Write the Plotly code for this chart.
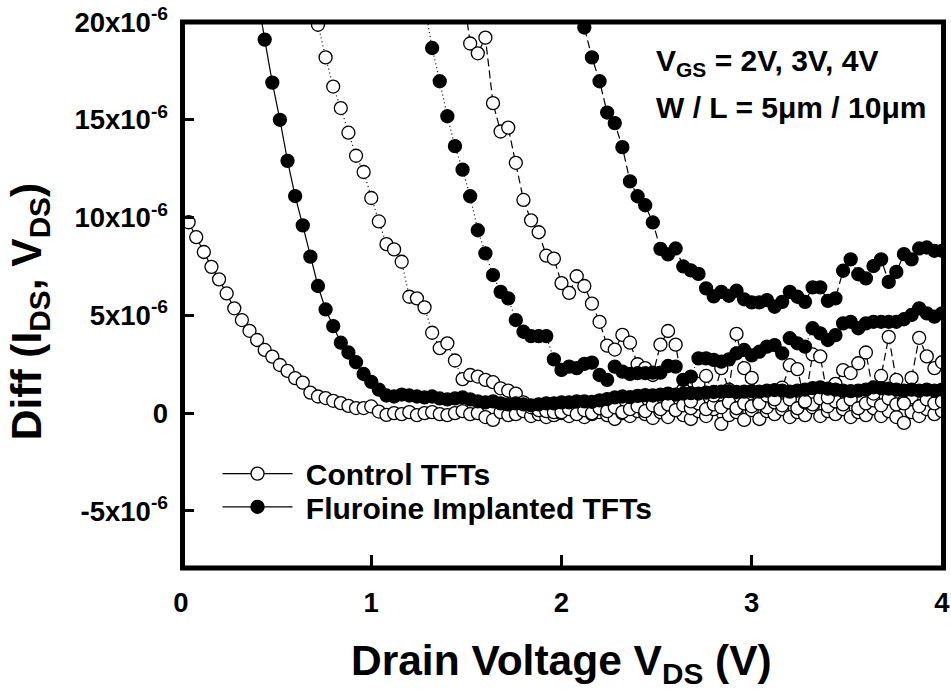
import plotly.graph_objects as go

# ---------------- data (y in units of 1e-6) ----------------
# Control TFTs, VGS = 2 V
c2_x = [0.04,0.08,0.12,0.16,0.20,0.24,0.28,0.32,0.36,0.40,0.44,0.48,0.52,0.56,0.60,0.64,0.68,0.72,0.76,0.80,
        0.84,0.88,0.92,0.96,1.00,1.04,1.08,1.12,1.16,1.20,1.24,1.28,1.32,1.36,1.40,1.44,1.48,1.52,1.56,1.60,
        1.64,1.68,1.72,1.76,1.80,1.84,1.88,1.92,1.96,2.00,2.04,2.08,2.12,2.16,2.20,2.24,2.28,2.32,2.36,2.40,
        2.44,2.48,2.52,2.56,2.60,2.64,2.68,2.72,2.76,2.80,2.84,2.88,2.92,2.96,3.00,3.04,3.08,3.12,3.16,3.20,
        3.24,3.28,3.32,3.36,3.40,3.44,3.48,3.52,3.56,3.60,3.64,3.68,3.72,3.76,3.80,3.84,3.88,3.92,3.96,4.00]
c2_y = [9.76,9.00,8.24,7.48,6.84,6.12,5.36,4.76,4.21,3.74,3.23,2.89,2.46,2.16,1.79,1.56,1.05,0.85,0.77,0.63,
        0.51,0.37,0.26,0.26,0.34,0.08,-0.09,0.00,-0.05,0.05,-0.10,0.00,0.05,-0.05,-0.10,0.00,0.10,-0.05,0.00,-0.20,
        -0.35,0.05,-0.10,-0.05,0.10,-0.15,-0.05,-0.20,-0.10,0.00,-0.15,0.10,-0.20,-0.05,0.05,-0.10,-0.30,0.00,-0.15,0.10,
        -0.05,-0.25,0.05,-0.20,0.15,-0.10,-0.30,0.10,-0.15,0.20,-0.55,-0.10,0.05,-0.35,0.15,-0.30,0.10,-0.05,0.20,-0.20,
        0.05,-0.10,0.30,-0.15,0.10,-0.05,0.20,-0.20,0.05,-0.10,0.25,-0.15,0.10,-0.20,-0.50,0.05,-0.15,0.20,-0.05,0.10]

# Control TFTs, VGS = 3 V
c3_x = [0.68,0.72,0.76,0.80,0.84,0.88,0.92,0.96,1.00,1.04,1.08,1.12,1.16,1.20,1.24,1.28,1.32,1.36,1.40,1.44,
        1.48,1.52,1.56,1.60,1.64,1.68,1.72,1.76,1.80,1.84,1.88,1.92,1.96,2.00,2.04,2.08,2.12,2.16,2.20,2.24,
        2.28,2.32,2.36,2.40,2.44,2.48,2.52,2.56,2.60,2.64,2.68,2.72,2.76,2.80,2.84,2.88,2.92,2.96,3.00,3.04,
        3.08,3.12,3.16,3.20,3.24,3.28,3.32,3.36,3.40,3.44,3.48,3.52,3.56,3.60,3.64,3.68,3.72,3.76,3.80,3.84,
        3.88,3.92,3.96,4.00]
c3_y = [21.6,19.86,18.19,16.70,15.60,14.34,13.16,12.33,11.00,9.80,8.64,8.37,7.74,5.95,5.87,5.41,4.11,3.32,3.57,2.69,
        1.74,1.95,1.87,1.70,1.58,1.27,1.15,1.00,0.55,0.30,0.15,0.10,0.05,0.05,0.20,-0.05,0.15,0.00,0.25,0.10,
        0.30,0.05,0.20,0.35,0.10,0.40,0.20,0.45,0.15,0.40,0.25,0.50,0.20,0.45,0.30,0.55,0.25,0.50,0.35,0.65,
        0.30,0.55,0.40,0.70,0.25,0.55,0.45,0.75,0.35,0.60,0.45,0.70,0.25,0.50,0.65,0.40,0.75,0.45,0.60,0.80,
        0.35,0.70,0.50,0.60]

# Control TFTs, VGS = 4 V
c4_x = [1.48,1.52,1.56,1.60,1.64,1.68,1.72,1.76,1.80,1.84,1.88,1.92,1.96,2.00,2.04,2.08,2.12,2.16,2.20,2.24,
        2.28,2.32,2.36,2.40,2.44,2.48,2.52,2.56,2.60,2.64,2.68,2.72,2.76,2.80,2.84,2.88,2.92,2.96,3.00,3.04,
        3.08,3.12,3.16,3.20,3.24,3.28,3.32,3.36,3.40,3.44,3.48,3.52,3.56,3.60,3.64,3.68,3.72,3.76,3.80,3.84,
        3.88,3.92,3.96,4.00]
c4_y = [21.8,18.90,18.40,19.20,15.85,14.40,14.60,12.80,10.90,9.86,9.25,8.05,7.90,6.65,6.15,7.00,6.50,5.60,4.67,3.45,
        3.25,4.00,3.60,2.50,2.30,1.95,3.50,4.20,3.50,1.20,0.60,1.50,1.90,0.90,2.30,1.20,4.05,2.30,1.80,0.50,
        0.90,0.70,1.30,2.45,2.25,0.60,3.00,2.90,0.80,1.50,2.20,2.05,2.55,3.10,1.00,1.90,3.90,1.70,0.50,1.80,
        3.85,2.90,2.30,2.60]

# Fluorine implanted TFTs, VGS = 2 V
f2_x = [0.36,0.40,0.44,0.48,0.52,0.56,0.60,0.64,0.68,0.72,0.76,0.80,0.84,0.88,0.92,0.96,1.00,1.04,1.08,1.12,
        1.16,1.20,1.24,1.28,1.32,1.36,1.40,1.44,1.48,1.52,1.56,1.60,1.64,1.68,1.72,1.76,1.80,1.84,1.88,1.92,
        1.96,2.00,2.04,2.08,2.12,2.16,2.20,2.24,2.28,2.32,2.36,2.40,2.44,2.48,2.52,2.56,2.60,2.64,2.68,2.72,
        2.76,2.80,2.84,2.88,2.92,2.96,3.00,3.04,3.08,3.12,3.16,3.20,3.24,3.28,3.32,3.36,3.40,3.44,3.48,3.52,
        3.56,3.60,3.64,3.68,3.72,3.76,3.80,3.84,3.88,3.92,3.96,4.00]
f2_y = [23.8,21.4,19.10,16.90,15.00,12.90,11.10,9.60,8.00,6.50,5.30,4.45,3.60,3.10,2.60,2.00,1.60,1.20,0.90,0.85,
        0.95,0.90,0.85,0.80,0.85,0.75,0.70,0.75,0.80,0.70,0.60,0.55,0.60,0.50,0.45,0.50,0.45,0.40,0.45,0.50,
        0.50,0.55,0.55,0.60,0.60,0.58,0.65,0.72,0.80,0.85,0.82,0.88,0.92,0.90,0.95,1.00,0.95,1.00,1.02,1.00,
        1.05,1.08,1.10,1.12,1.08,1.10,1.12,1.10,1.15,1.18,1.15,1.10,1.15,1.20,1.28,1.32,1.25,1.20,1.15,1.12,
        1.15,1.20,1.32,1.28,1.25,1.20,1.15,1.20,1.15,1.20,1.15,1.20]

# Fluorine implanted TFTs, VGS = 3 V
f3_x = [1.28,1.32,1.36,1.40,1.44,1.48,1.52,1.56,1.60,1.64,1.68,1.72,1.76,1.80,1.84,1.88,1.92,1.96,2.00,2.04,
        2.08,2.12,2.16,2.20,2.24,2.28,2.32,2.36,2.40,2.44,2.48,2.52,2.56,2.60,2.64,2.68,2.72,2.76,2.80,2.84,
        2.88,2.92,2.96,3.00,3.04,3.08,3.12,3.16,3.20,3.24,3.28,3.32,3.36,3.40,3.44,3.48,3.52,3.56,3.60,3.64,
        3.68,3.72,3.76,3.80,3.84,3.88,3.92,3.96,4.00]
f3_y = [20.9,18.67,16.97,15.18,13.65,12.45,11.09,9.35,8.17,7.06,6.20,5.87,4.76,4.16,3.94,3.94,3.94,2.75,2.21,2.38,
        2.30,2.52,2.58,1.95,1.70,2.38,2.12,2.00,2.04,2.04,2.07,2.07,2.41,2.38,1.70,1.87,2.80,2.80,2.72,2.63,
        2.75,3.06,3.23,2.95,3.14,3.40,3.48,3.06,3.83,3.57,3.40,4.34,4.08,3.74,3.99,4.59,4.67,4.34,4.59,4.67,
        4.67,4.67,4.67,4.80,5.02,5.36,5.10,4.93,5.10]

# Fluorine implanted TFTs, VGS = 4 V
f4_x = [2.04,2.08,2.12,2.16,2.20,2.24,2.28,2.32,2.36,2.40,2.44,2.48,2.52,2.56,2.60,2.64,2.68,2.72,2.76,2.80,
        2.84,2.88,2.92,2.96,3.00,3.04,3.08,3.12,3.16,3.20,3.24,3.28,3.32,3.36,3.40,3.44,3.48,3.52,3.56,3.60,
        3.64,3.68,3.72,3.76,3.80,3.84,3.88,3.92,3.96,4.00]
f4_y = [24.5,21.9,19.72,18.19,16.97,15.37,14.83,13.60,11.85,11.09,10.63,9.75,8.40,8.12,8.42,7.50,7.30,7.12,6.38,5.97,
        6.20,6.00,6.26,5.82,5.66,5.66,5.78,5.44,5.69,6.20,5.95,5.69,6.43,6.43,5.74,5.87,7.28,7.86,7.10,6.89,
        7.52,7.86,6.71,7.22,8.13,7.86,8.42,8.47,8.30,8.30]

y_tickvals = [-5, 0, 5, 10, 15, 20]
y_ticktext = ["-5x10<sup>-6</sup>", "0", "5x10<sup>-6</sup>", "10x10<sup>-6</sup>",
              "15x10<sup>-6</sup>", "20x10<sup>-6</sup>"]
x_tickvals = [0, 1, 2, 3, 4]

FONT = "Liberation Sans, Arial, sans-serif"

open_marker = dict(symbol="circle", size=13, color="white", line=dict(color="black", width=1.3))
fill_marker = dict(symbol="circle", size=13, color="black", line=dict(color="black", width=1.3))

fig = go.Figure()
series = [
    (c2_x, c2_y, open_marker, "solid", "\u00a0Control TFTs", True, "legend"),
    (c3_x, c3_y, open_marker, "1px,3px", "Control TFTs", False, "legend"),
    (c4_x, c4_y, open_marker, "8px,4px", "Control TFTs", False, "legend"),
    (f2_x, f2_y, fill_marker, "solid", "\u00a0Fluroine Implanted TFTs", True, "legend2"),
    (f3_x, f3_y, fill_marker, "1px,3px", "Fluroine Implanted TFTs", False, "legend2"),
    (f4_x, f4_y, fill_marker, "8px,4px", "Fluroine Implanted TFTs", False, "legend2"),
]
for xs, ys, mk, dash, name, show, lg in series:
    fig.add_trace(go.Scatter(
        x=xs, y=ys, mode="lines+markers", name=name, showlegend=show, legend=lg,
        marker=mk, line=dict(color="black", width=1.2, dash=dash),
    ))

axis_common = dict(
    showline=False,
    ticks="inside", ticklen=13, tickwidth=3, tickcolor="black",
    showgrid=False, zeroline=False, automargin=False,
    tickfont=dict(family=FONT, size=27.5, color="black", weight="bold"),
)

fig.update_xaxes(range=[0, 4], tickvals=x_tickvals, ticktext=[str(v) for v in x_tickvals],
                 ticklabelstandoff=15, **axis_common)
fig.update_yaxes(range=[-7.92, 20], tickvals=y_tickvals, ticktext=y_ticktext,
                 ticklabelstandoff=12, **axis_common)

# plot frame
fig.add_shape(type="rect", xref="paper", yref="paper", x0=0.002, x1=1.002, y0=0, y1=1,
              line=dict(color="black", width=5), fillcolor="rgba(0,0,0,0)", layer="above")

title_font = dict(family=FONT, size=42.5, color="black", weight="bold")
fig.add_annotation(xref="paper", yref="paper", x=0.5, y=-0.175, xanchor="center", yanchor="middle",
                   text="Drain Voltage V<sub>DS</sub> (V)", showarrow=False, font=title_font)
fig.add_annotation(xref="paper", yref="paper", x=-0.198, y=0.469, xanchor="center", yanchor="middle",
                   text="Diff (I<sub>DS</sub>, V<sub>DS</sub>)", showarrow=False, textangle=-90,
                   font=title_font)

note_font = dict(family=FONT, size=30, color="black", weight="bold")
fig.add_annotation(xref="paper", yref="paper", x=0.622, y=0.925, xanchor="left", yanchor="middle",
                   text="V<sub>GS</sub> = 2V, 3V, 4V", showarrow=False, font=note_font)
fig.add_annotation(xref="paper", yref="paper", x=0.622, y=0.844, xanchor="left", yanchor="middle",
                   text="W / L = 5\u03bcm / 10\u03bcm", showarrow=False, font=note_font)

leg_common = dict(xanchor="left", yanchor="top", bgcolor="rgba(0,0,0,0)", borderwidth=0,
                  itemwidth=70, font=dict(family=FONT, size=30, color="black", weight="bold"))

fig.update_layout(
    width=951, height=695,
    margin=dict(l=181, r=9, t=22, b=127),
    plot_bgcolor="white", paper_bgcolor="white",
    showlegend=True,
    legend=dict(x=0.048, y=0.2205, **leg_common),
    legend2=dict(x=0.048, y=0.1597, **leg_common),
)

fig.write_html("out.html")
